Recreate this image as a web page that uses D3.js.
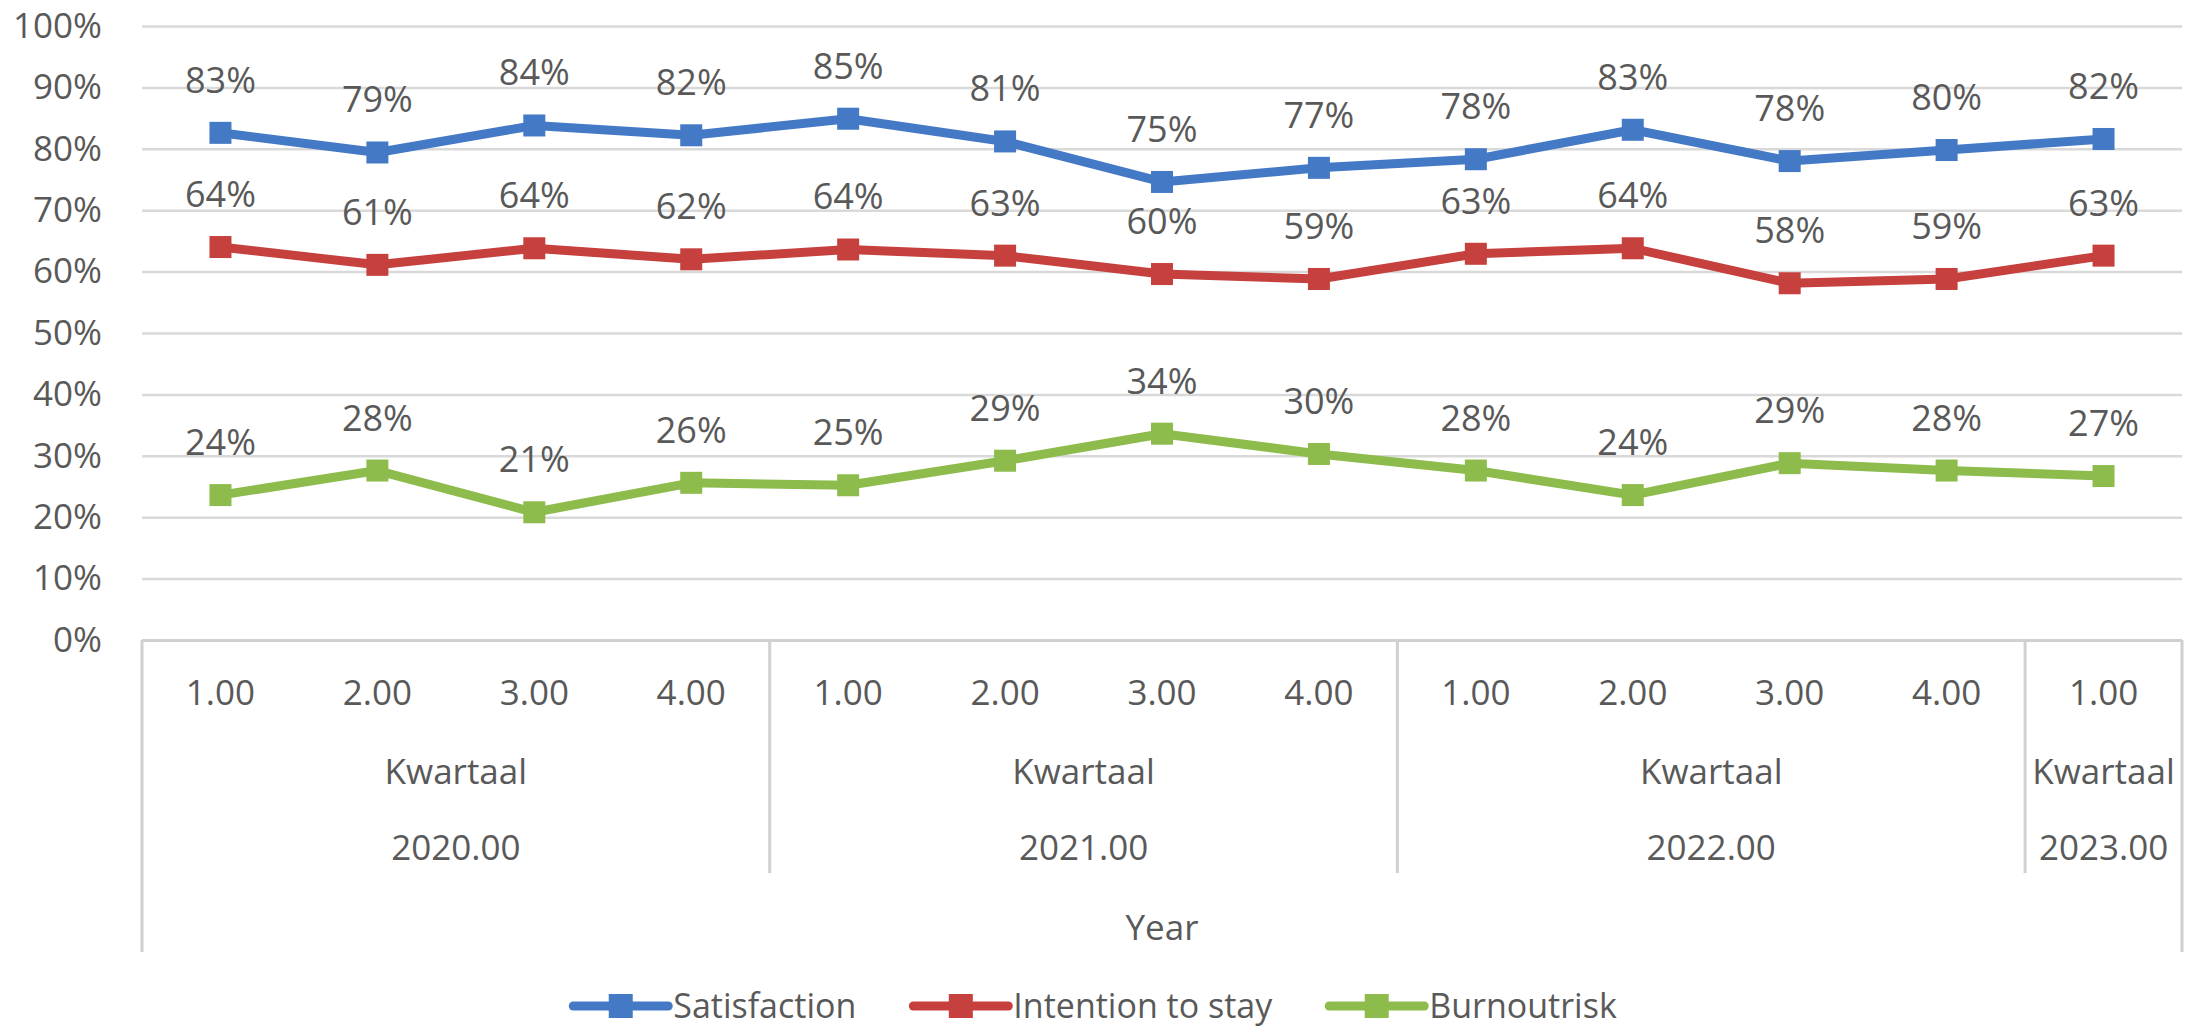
<!DOCTYPE html>
<html>
<head>
<meta charset="utf-8">
<script src="https://cdn.jsdelivr.net/npm/d3@7"></script>
<style>
  html, body { margin: 0; padding: 0; background: #fff; }
  svg text { font-family: "Open Sans", sans-serif; fill: #595959; }
</style>
</head>
<body>
<div id="chart"></div>
<script>
// quarters along the x axis, grouped by year
const quarters = ["1.00", "2.00", "3.00", "4.00", "1.00", "2.00", "3.00", "4.00", "1.00", "2.00", "3.00", "4.00", "1.00"];
const years = ["2020.00", "2021.00", "2022.00", "2023.00"];
const quartersPerYear = [4, 4, 4, 1];
const groupLabel = "Kwartaal";
const outerLabel = "Year";

const satisfaction = [0.826, 0.794, 0.838, 0.822, 0.849, 0.812, 0.746, 0.769, 0.783, 0.831, 0.780, 0.798, 0.816];
const intention = [0.640, 0.611, 0.638, 0.620, 0.636, 0.626, 0.596, 0.588, 0.629, 0.638, 0.581, 0.588, 0.626];
const burnout = [0.236, 0.276, 0.208, 0.256, 0.252, 0.292, 0.336, 0.303, 0.276, 0.236, 0.288, 0.276, 0.267];

const seriesNames = ["Satisfaction", "Intention to stay", "Burnoutrisk"];
const seriesColors = ["#4479c6", "#c6403e", "#8dbb4c"];
const yTicks = [0, 0.1, 0.2, 0.3, 0.4, 0.5, 0.6, 0.7, 0.8, 0.9, 1];

const W = 2190, H = 1032;
const margin = { top: 26, right: 8, bottom: 392, left: 142 };
const width = W - margin.left - margin.right;
const height = H - margin.top - margin.bottom;
const fontSize = 35;

const svg = d3.select("#chart")
    .append("svg")
    .attr("width", W)
    .attr("height", H);

const g = svg.append("g")
    .attr("transform", `translate(${margin.left}, ${margin.top})`);

const x = d3.scaleBand()
    .domain(d3.range(quarters.length))
    .range([0, width]);

const y = d3.scaleLinear()
    .domain([0, 1])
    .range([height, 0]);

// y axis with gridlines
const yAxis = g.append("g")
    .call(d3.axisLeft(y)
        .tickValues(yTicks)
        .tickFormat(d3.format(".0%"))
        .tickSize(-width)
        .tickPadding(40));
yAxis.select(".domain").remove();
yAxis.selectAll(".tick line")
    .attr("stroke", d => d === 0 ? "#d0d0d0" : "#d9d9d9")
    .attr("stroke-width", d => d === 0 ? 3 : 2.5);
yAxis.selectAll(".tick text")
    .style("font-size", fontSize + "px")
    .attr("fill", "#595959");

// x axis: quarter labels
const xAxis = g.append("g")
    .attr("transform", `translate(0, ${height})`)
    .call(d3.axisBottom(x)
        .tickFormat(i => quarters[i])
        .tickSize(0));
xAxis.select(".domain").remove();
xAxis.selectAll(".tick text")
    .attr("y", 53)
    .attr("dy", "0.35em")
    .style("font-size", fontSize + "px")
    .attr("fill", "#595959");

// year groups
let start = 0;
const groups = quartersPerYear.map((n, k) => {
    const grp = { year: years[k], x0: x(start), x1: x(start + n - 1) + x.bandwidth() };
    start += n;
    return grp;
});

const axisG = g.append("g").attr("transform", `translate(0, ${height})`);
axisG.selectAll("line.divider")
    .data(groups.slice(1))
    .join("line")
    .attr("x1", d => d.x0).attr("x2", d => d.x0)
    .attr("y1", 0).attr("y2", 233)
    .attr("stroke", "#d0d0d0").attr("stroke-width", 3);
axisG.selectAll("line.outer")
    .data([0, width])
    .join("line")
    .attr("x1", d => d).attr("x2", d => d)
    .attr("y1", 0).attr("y2", 312)
    .attr("stroke", "#d0d0d0").attr("stroke-width", 3);

axisG.selectAll("text.kw")
    .data(groups)
    .join("text")
    .attr("x", d => (d.x0 + d.x1) / 2)
    .attr("y", 132)
    .attr("dy", "0.35em")
    .attr("text-anchor", "middle")
    .style("font-size", fontSize + "px")
    .text(groupLabel);
axisG.selectAll("text.yr")
    .data(groups)
    .join("text")
    .attr("x", d => (d.x0 + d.x1) / 2)
    .attr("y", 208)
    .attr("dy", "0.35em")
    .attr("text-anchor", "middle")
    .style("font-size", fontSize + "px")
    .text(d => d.year);
axisG.append("text")
    .attr("x", width / 2)
    .attr("y", 288)
    .attr("dy", "0.35em")
    .attr("text-anchor", "middle")
    .style("font-size", fontSize + "px")
    .text(outerLabel);

// series
const series = [satisfaction, intention, burnout];
const line = d3.line()
    .x((d, i) => x(i) + x.bandwidth() / 2)
    .y(d => y(d));
const markerSize = 22;

series.forEach((values, s) => {
    const sg = g.append("g");
    sg.append("path")
        .datum(values)
        .attr("d", line)
        .attr("fill", "none")
        .attr("stroke", seriesColors[s])
        .attr("stroke-width", 9)
        .attr("stroke-linejoin", "round");
    sg.selectAll("rect")
        .data(values)
        .join("rect")
        .attr("x", (d, i) => x(i) + x.bandwidth() / 2 - markerSize / 2)
        .attr("y", d => y(d) - markerSize / 2)
        .attr("width", markerSize)
        .attr("height", markerSize)
        .attr("fill", seriesColors[s]);
    sg.selectAll("text")
        .data(values)
        .join("text")
        .attr("x", (d, i) => x(i) + x.bandwidth() / 2)
        .attr("y", d => y(d) - 40)
        .attr("text-anchor", "middle")
        .style("font-size", "36px")
        .text(d => d3.format(".0%")(d));
});

// legend
const legendY = 1006;
const legend = svg.append("g");
const lineLen = 95, textGap = 5, itemGap = 57;
let lx = 0;
seriesNames.forEach((name, s) => {
    const it = legend.append("g");
    it.append("line")
        .attr("x1", 0).attr("x2", lineLen)
        .attr("y1", 0).attr("y2", 0)
        .attr("stroke", seriesColors[s])
        .attr("stroke-width", 9)
        .attr("stroke-linecap", "round");
    it.append("rect")
        .attr("x", lineLen / 2 - 12).attr("y", -12)
        .attr("width", 24).attr("height", 24)
        .attr("fill", seriesColors[s]);
    const t = it.append("text")
        .attr("x", lineLen + textGap)
        .attr("dy", "0.35em")
        .style("font-size", "34px")
        .text(name);
    const w = lineLen + textGap + t.node().getComputedTextLength();
    it.attr("transform", `translate(${lx}, 0)`);
    lx += w + itemGap;
});
const totalW = lx - itemGap;
legend.attr("transform", `translate(${(W - totalW) / 2}, ${legendY})`);
</script>
</body>
</html>
